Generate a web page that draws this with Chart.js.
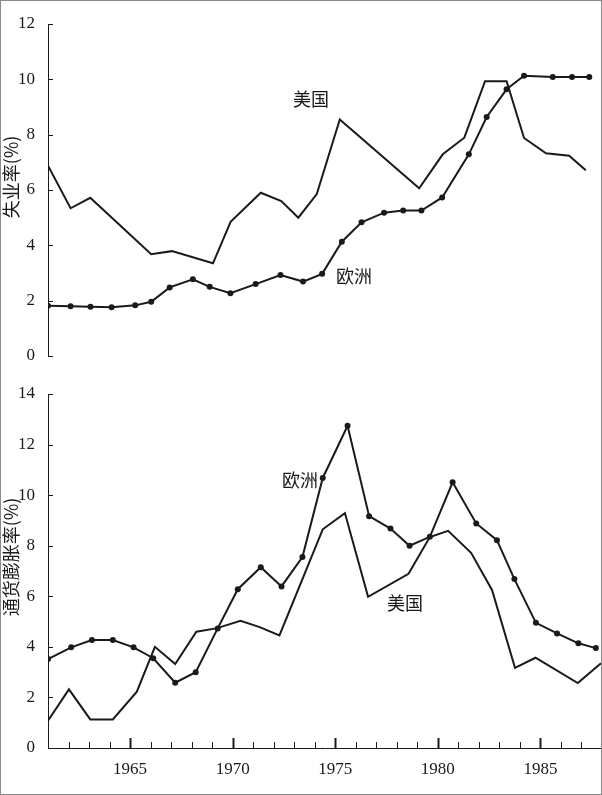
<!DOCTYPE html>
<html>
<head>
<meta charset="utf-8">
<script src="https://cdn.jsdelivr.net/npm/chart.js@4.4.0/dist/chart.umd.min.js"></script>
<style>
  html, body { margin: 0; padding: 0; background: #fff; }
  #wrap { position: relative; width: 602px; height: 795px; }
  #wrap canvas { position: absolute; left: 0; }
  #top { top: 0; }
  #bottom { top: 372px; }
  #frame { position: absolute; left: 0; top: 0; width: 602px; height: 795px; box-sizing: border-box; border: 1px solid #8a8a8a; pointer-events: none; }
</style>
</head>
<body>
<div id="wrap">
  <canvas id="top" width="602" height="372"></canvas>
  <canvas id="bottom" width="602" height="423"></canvas>
  <div id="frame"></div>
</div>
<script>
// 失业率 - 美国 (折线拐点)
const usUnempYears = [1961.0, 1962.1, 1963.06, 1966.03, 1967.04, 1969.04, 1969.9, 1971.37, 1972.37, 1973.2, 1974.1, 1975.22, 1979.09, 1980.24, 1981.29, 1982.3, 1983.35, 1984.2, 1985.27, 1986.4, 1987.21];
const usUnemp = [6.88, 5.34, 5.72, 3.68, 3.79, 3.35, 4.85, 5.90, 5.60, 5.00, 5.85, 8.55, 6.06, 7.29, 7.89, 9.93, 9.93, 7.88, 7.33, 7.24, 6.71];

// 失业率 - 欧洲
const euUnempYears = [1961.0, 1962.1, 1963.07, 1964.1, 1965.25, 1966.03, 1966.93, 1968.06, 1968.88, 1969.89, 1971.12, 1972.33, 1973.43, 1974.36, 1975.32, 1976.28, 1977.38, 1978.31, 1979.2, 1980.21, 1981.51, 1982.38, 1983.35, 1984.2, 1985.6, 1986.54, 1987.38];
const euUnemp = [1.82, 1.80, 1.78, 1.76, 1.83, 1.96, 2.48, 2.77, 2.50, 2.27, 2.60, 2.93, 2.69, 2.97, 4.13, 4.83, 5.18, 5.26, 5.26, 5.73, 7.29, 8.64, 9.64, 10.13, 10.08, 10.08, 10.08];

// 通货膨胀率 - 欧洲
const euInflYears = [1961.0, 1962.13, 1963.14, 1964.16, 1965.17, 1966.13, 1967.2, 1968.2, 1969.27, 1970.25, 1971.37, 1972.38, 1973.4, 1974.39, 1975.6, 1976.65, 1977.69, 1978.62, 1979.61, 1980.72, 1981.87, 1982.88, 1983.73, 1984.78, 1985.81, 1986.85, 1987.7];
const euInfl = [3.52, 3.98, 4.27, 4.27, 3.98, 3.55, 2.58, 3.00, 4.73, 6.28, 7.15, 6.39, 7.55, 10.68, 12.74, 9.17, 8.68, 8.00, 8.35, 10.51, 8.88, 8.22, 6.68, 4.95, 4.53, 4.14, 3.95];

// 通货膨胀率 - 美国
const usInflYears = [1961.0, 1962.02, 1963.06, 1964.16, 1965.33, 1966.21, 1967.2, 1968.23, 1969.2, 1970.38, 1971.32, 1972.28, 1974.39, 1975.47, 1976.6, 1978.57, 1979.61, 1980.5, 1981.62, 1982.64, 1983.76, 1984.76, 1986.82, 1987.95];
const usInfl = [1.08, 2.32, 1.13, 1.13, 2.23, 4.00, 3.32, 4.60, 4.73, 5.03, 4.78, 4.45, 8.65, 9.29, 5.98, 6.89, 8.34, 8.59, 7.72, 6.25, 3.17, 3.57, 2.57, 3.35];

const xMin = 1961, xMax = 1988;
const xLabelYears = [1965, 1970, 1975, 1980, 1985];

const ink = '#1a1a1a';
const numFont = { family: '"Liberation Serif", "DejaVu Serif", serif', size: 17 };

const toPoints = (xs, ys) => xs.map((x, i) => ({ x: x, y: ys[i] }));

// 刻度朝内 + 文字标注
const innerTicks = {
    id: 'innerTicks',
    afterDraw(chart, args, opts) {
        const ctx = chart.ctx;
        const area = chart.chartArea;
        const y = chart.scales.y;
        ctx.save();
        ctx.strokeStyle = ink;
        ctx.lineWidth = 1;
        y.ticks.forEach(t => {
            const py = Math.round(y.getPixelForValue(t.value)) + 0.5;
            ctx.beginPath();
            ctx.moveTo(area.left, py);
            ctx.lineTo(area.left + 5, py);
            ctx.stroke();
        });
        if (opts.xTicks) {
            const x = chart.scales.x;
            x.ticks.forEach(t => {
                const major = xLabelYears.includes(t.value);
                const px = Math.round(x.getPixelForValue(t.value)) + 0.5;
                ctx.lineWidth = major ? 2 : 1;
                ctx.beginPath();
                ctx.moveTo(px, area.bottom);
                ctx.lineTo(px, area.bottom - (major ? 10 : 6));
                ctx.stroke();
            });
        }
        ctx.fillStyle = ink;
        ctx.font = '18px "Noto Sans CJK SC"';
        ctx.textBaseline = 'middle';
        ctx.textAlign = 'left';
        (opts.notes || []).forEach(n => ctx.fillText(n.text, n.x, n.y));
        if (opts.title) {
            ctx.translate(opts.title.x, opts.title.y);
            ctx.rotate(-Math.PI / 2);
            ctx.textAlign = 'center';
            ctx.fillText(opts.title.text, 0, 0);
        }
        ctx.restore();
    }
};

const makeChart = (id, datasets, yMax, showX, padTop, xHeight, notes, title) => {
    return new Chart(document.getElementById(id).getContext('2d'), {
        type: 'line',
        data: { datasets: datasets },
        options: {
            responsive: false,
            animation: false,
            layout: { autoPadding: false, padding: { top: padTop, bottom: 0, left: 0, right: 0 } },
            plugins: {
                legend: { display: false },
                tooltip: { enabled: false },
                innerTicks: { xTicks: showX, notes: notes, title: title }
            },
            elements: { line: { tension: 0 } },
            scales: {
                x: {
                    type: 'linear',
                    min: xMin,
                    max: xMax,
                    afterFit: s => {
                        s.height = xHeight;
                        s.paddingLeft = 0;
                        s.paddingRight = 0;
                    },
                    grid: { drawOnChartArea: false, drawTicks: false },
                    border: { display: showX, color: ink, width: 1 },
                    ticks: {
                        display: showX,
                        stepSize: 1,
                        autoSkip: false,
                        maxRotation: 0,
                        padding: 11,
                        color: ink,
                        font: numFont,
                        callback: v => xLabelYears.includes(v) ? String(v) : ''
                    }
                },
                y: {
                    min: 0,
                    max: yMax,
                    afterFit: s => {
                        s.width = 48;
                        s.paddingTop = 0;
                        s.paddingBottom = 0;
                    },
                    grid: { drawOnChartArea: false, drawTicks: false },
                    border: { display: true, color: ink, width: 1 },
                    ticks: { stepSize: 2, padding: 13, color: ink, font: numFont }
                }
            }
        },
        plugins: [innerTicks]
    });
};

const usStyle = { borderColor: ink, borderWidth: 2, pointRadius: 0, fill: false };
const euStyle = { borderColor: ink, borderWidth: 2, pointRadius: 3, pointBackgroundColor: ink, pointBorderWidth: 0, fill: false };

makeChart('top', [
    Object.assign({ label: '美国', data: toPoints(usUnempYears, usUnemp) }, usStyle),
    Object.assign({ label: '欧洲', data: toPoints(euUnempYears, euUnemp) }, euStyle)
], 12, false, 24, 16,
    [{ text: '美国', x: 293, y: 99 }, { text: '欧洲', x: 336, y: 276 }],
    { text: '失业率(%)', x: 11, y: 177 });

makeChart('bottom', [
    Object.assign({ label: '美国', data: toPoints(usInflYears, usInfl) }, usStyle),
    Object.assign({ label: '欧洲', data: toPoints(euInflYears, euInfl) }, euStyle)
], 14, true, 22, 47,
    [{ text: '欧洲', x: 282, y: 108 }, { text: '美国', x: 387, y: 231 }],
    { text: '通货膨胀率(%)', x: 11, y: 185 });
</script>
</body>
</html>
